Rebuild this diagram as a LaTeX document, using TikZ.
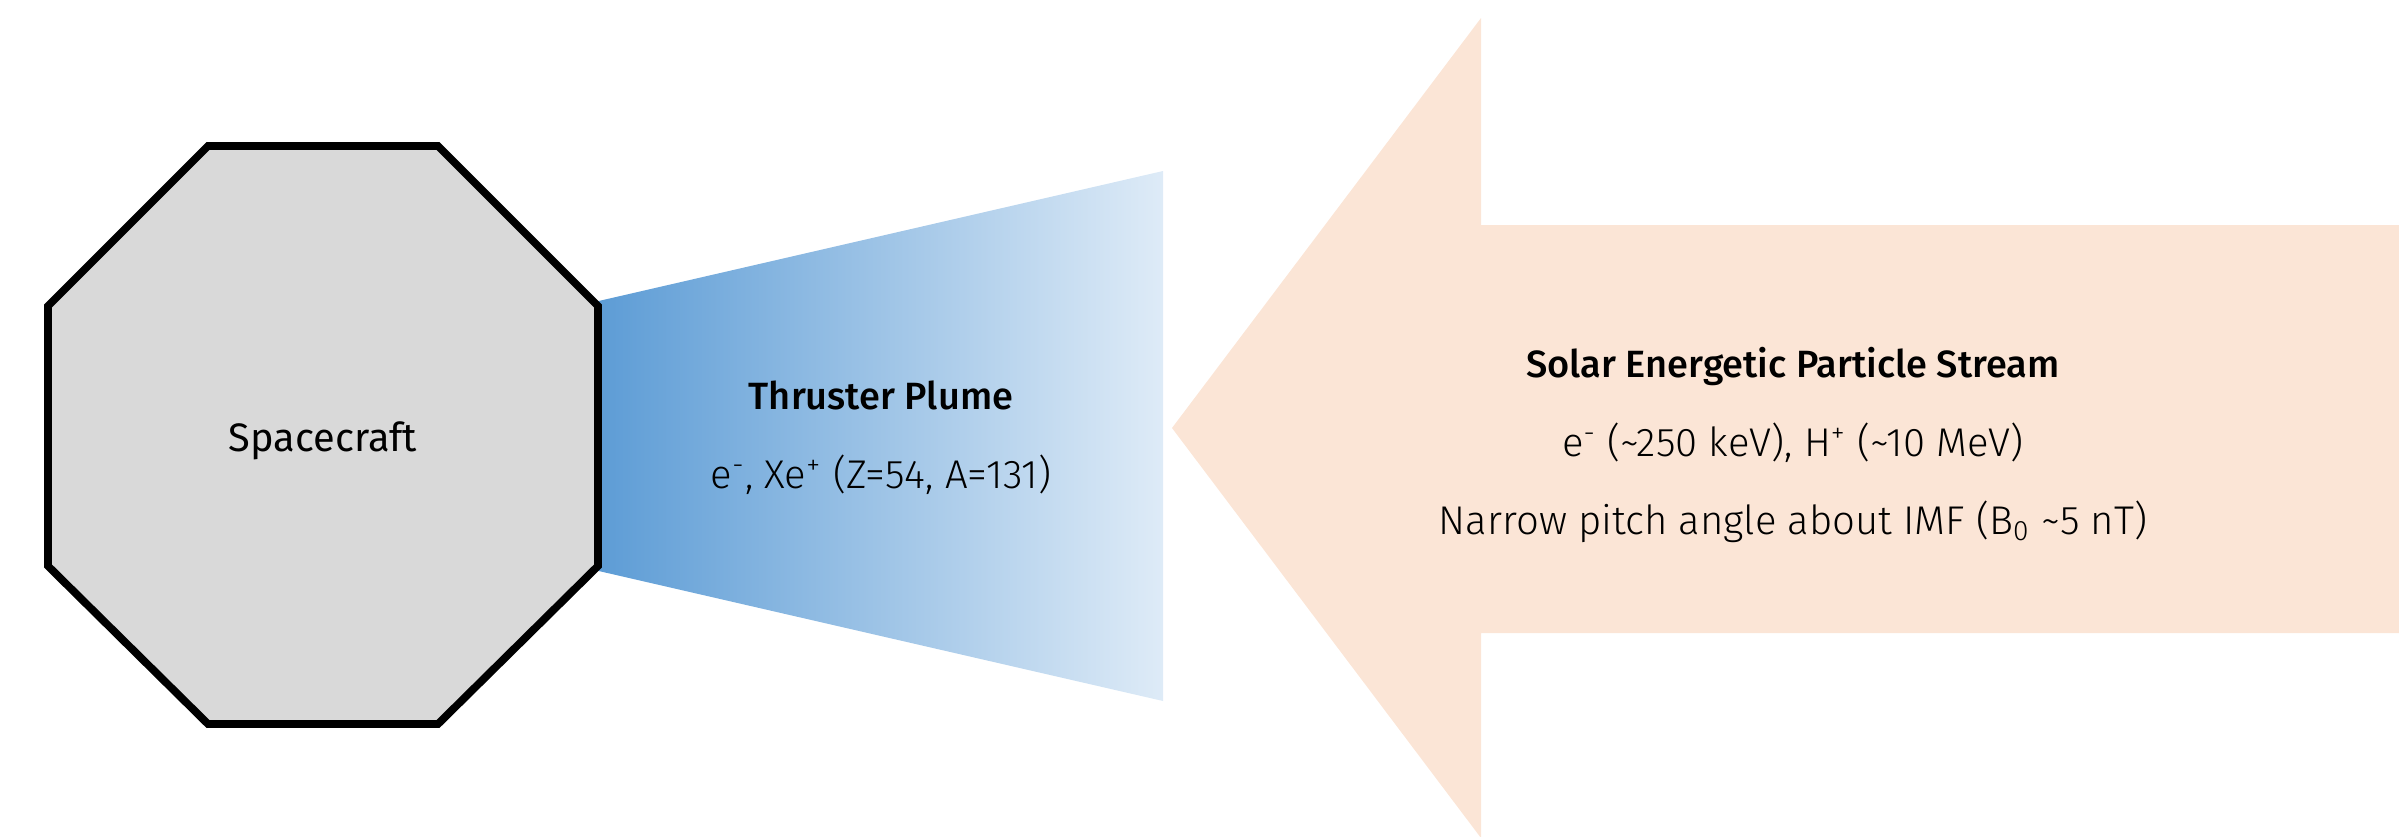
\documentclass[tikz,border=0pt]{standalone}
\usepackage{fontspec}
\setmainfont{Fira Sans}
\newfontfamily\lightfont{Fira Sans Light}
\newfontfamily\mediumfont{Fira Sans Medium}
\usetikzlibrary{positioning}
\definecolor{craftGray}{HTML}{D9D9D9}
\definecolor{plumeDark}{HTML}{5B9BD5}
\definecolor{plumeLight}{HTML}{DEEBF7}
\definecolor{sepOrange}{HTML}{FBE5D6}

\begin{document}
\begin{tikzpicture}[x=0.01cm, y=-0.01cm,
    node distance=0.39cm,
    textline/.style={inner sep=0pt, text height=1.6ex, text depth=0.45ex},
    heading/.style={textline, font=\mediumfont\fontsize{10.8}{12}\selectfont},
    detail/.style={textline, font=\lightfont\fontsize{11.4}{13}\selectfont},
    hull/.style={draw=black, line width=2.2pt, fill=craftGray, line join=miter},
  ]
  \useasboundingbox (0,0) rectangle (2399,836);

  \fill[sepOrange] (1172,428) -- (1481,18) -- (1481,225) -- (2399,225)
    -- (2399,633) -- (1481,633) -- (1481,838) -- cycle;
  \shade[left color=plumeDark, right color=plumeLight]
    (590,303) -- (1163,171) -- (1163,701) -- (590,569) -- cycle;
  \draw[hull] (208,146) -- (438,146) -- (598,306) -- (598,566)
    -- (438,724) -- (208,724) -- (48,566) -- (48,306) -- cycle;

  \node[textline, font=\fontsize{11.3}{13}\selectfont] (craft) at (323,441) {Spacecraft};

  \node[heading] (plumeT) at (881,399) {Thruster Plume};
  \node[detail, below=of plumeT] (plumeS) {e\textsuperscript{-}, Xe\textsuperscript{+} (Z=54, A=131)};

  \node[heading] (sepT) at (1793,367) {Solar Energetic Particle Stream};
  \node[detail, below=of sepT] (sepE) {e\textsuperscript{-} (\textasciitilde250 keV), H\textsuperscript{+} (\textasciitilde10 MeV)};
  \node[detail, below=of sepE] (sepB) {Narrow pitch angle about IMF (B\textsubscript{0} \textasciitilde5 nT)};
\end{tikzpicture}
\end{document}
